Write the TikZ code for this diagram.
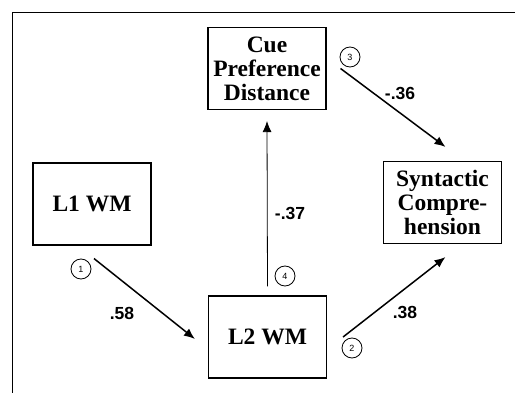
\documentclass[tikz,border=0pt]{standalone}
\usepackage{fontspec}
\setmainfont{Liberation Serif}
\setsansfont{Liberation Sans}
\usetikzlibrary{arrows.meta, positioning}
\tikzset{>={Latex[length=11pt,width=9pt]}}
\tikzset{var/.style = {draw, line width = 1.1pt, minimum width = 118pt, minimum height = 82pt, inner sep = 0pt, align = center, font = \fontsize{23.5}{24}\selectfont\bfseries}}
\tikzset{effect/.style = {->, line width = 1.5pt}}
\tikzset{coef/.style = {font = \sffamily\bfseries\fontsize{17.5}{18}\selectfont}}
\tikzset{num/.style = {draw, circle, line width = 0.8pt, minimum size = 20pt, inner sep = 0pt, font = \sffamily\fontsize{9}{9}\selectfont}}

\begin{document}
\begin{tikzpicture}[x = 1pt, y = 1pt]
\useasboundingbox (0,0) rectangle (515,392);
% frame
\draw[line width = 1pt] (12,-10) -- (12,379) -- (530,379);
% variables
\node[var] (cue) at (267,323.5) {Cue\\Preference\\Distance};
\node[var] (l1)  at (92,188)    {L1 WM};
\node[var] (syn) at (442.5,189.5) {Syntactic\\Compre-\\hension};
\node[var] (l2)  at (267.5,55)  {L2 WM};
% paths
\draw[effect] ([shift={(2,-13)}]l1.south) -- ([shift={(-13,-2)}]l2.west);
\draw[effect] ([shift={(16,0)}]l2.east) -- ([shift={(3,-13)}]syn.south);
\draw[effect] ([shift={(14,0)}]cue.east) -- ([shift={(3,14)}]syn.north);
\draw[->, line width = 0.8pt] ([yshift=9pt]l2.north) -- ([yshift=-11pt]cue.south);
% path numbers
\node[num] (n1) at (81,123) {1};
\node[num] (n2) at (352,44) {2};
\node[num] (n3) at (350,335) {3};
\node[num] (n4) at (285,116) {4};
% coefficients
\node[coef] (c1) at (122,79) {.58};
\node[coef] (c2) at (405,80) {.38};
\node[coef] (c3) at (400,299) {-.36};
\node[coef] (c4) at (290,179) {-.37};
\end{tikzpicture}
\end{document}
